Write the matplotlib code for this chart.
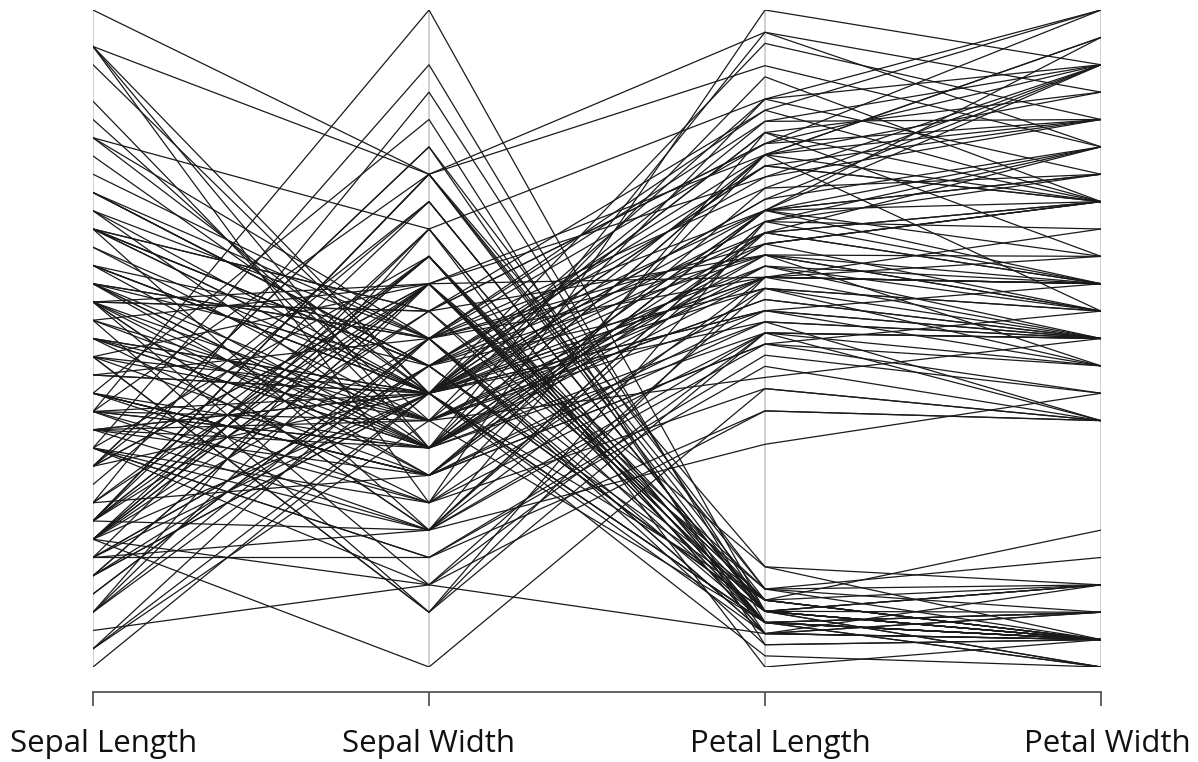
import numpy as np
import matplotlib.pyplot as plt

# iris measurements, one list per column
sepal_length = [5.1, 4.9, 4.7, 4.6, 5.0, 5.4, 4.6, 5.0, 4.4, 4.9, 5.4, 4.8, 4.8, 4.3, 5.8, 5.7, 5.4, 5.1, 5.7, 5.1,
                5.4, 5.1, 4.6, 5.1, 4.8, 5.0, 5.0, 5.2, 5.2, 4.7, 4.8, 5.4, 5.2, 5.5, 4.9, 5.0, 5.5, 4.9, 4.4, 5.1,
                5.0, 4.5, 4.4, 5.0, 5.1, 4.8, 5.1, 4.6, 5.3, 5.0,
                7.0, 6.4, 6.9, 5.5, 6.5, 5.7, 6.3, 4.9, 6.6, 5.2, 5.0, 5.9, 6.0, 6.1, 5.6, 6.7, 5.6, 5.8, 6.2, 5.6,
                5.9, 6.1, 6.3, 6.1, 6.4, 6.6, 6.8, 6.7, 6.0, 5.7, 5.5, 5.5, 5.8, 6.0, 5.4, 6.0, 6.7, 6.3, 5.6, 5.5,
                5.5, 6.1, 5.8, 5.0, 5.6, 5.7, 5.7, 6.2, 5.1, 5.7,
                6.3, 5.8, 7.1, 6.3, 6.5, 7.6, 4.9, 7.3, 6.7, 7.2, 6.5, 6.4, 6.8, 5.7, 5.8, 6.4, 6.5, 7.7, 7.7, 6.0,
                6.9, 5.6, 7.7, 6.3, 6.7, 7.2, 6.2, 6.1, 6.4, 7.2, 7.4, 7.9, 6.4, 6.3, 6.1, 7.7, 6.3, 6.4, 6.0, 6.9,
                6.7, 6.9, 5.8, 6.8, 6.7, 6.7, 6.3, 6.5, 6.2, 5.9]
sepal_width = [3.5, 3.0, 3.2, 3.1, 3.6, 3.9, 3.4, 3.4, 2.9, 3.1, 3.7, 3.4, 3.0, 3.0, 4.0, 4.4, 3.9, 3.5, 3.8, 3.8,
               3.4, 3.7, 3.6, 3.3, 3.4, 3.0, 3.4, 3.5, 3.4, 3.2, 3.1, 3.4, 4.1, 4.2, 3.1, 3.2, 3.5, 3.6, 3.0, 3.4,
               3.5, 2.3, 3.2, 3.5, 3.8, 3.0, 3.8, 3.2, 3.7, 3.3,
               3.2, 3.2, 3.1, 2.3, 2.8, 2.8, 3.3, 2.4, 2.9, 2.7, 2.0, 3.0, 2.2, 2.9, 2.9, 3.1, 3.0, 2.7, 2.2, 2.5,
               3.2, 2.8, 2.5, 2.8, 2.9, 3.0, 2.8, 3.0, 2.9, 2.6, 2.4, 2.4, 2.7, 2.7, 3.0, 3.4, 3.1, 2.3, 3.0, 2.5,
               2.6, 3.0, 2.6, 2.3, 2.7, 3.0, 2.9, 2.9, 2.5, 2.8,
               3.3, 2.7, 3.0, 2.9, 3.0, 3.0, 2.5, 2.9, 2.5, 3.6, 3.2, 2.7, 3.0, 2.5, 2.8, 3.2, 3.0, 3.8, 2.6, 2.2,
               3.2, 2.8, 2.8, 2.7, 3.3, 3.2, 2.8, 3.0, 2.8, 3.0, 2.8, 3.8, 2.8, 2.8, 2.6, 3.0, 3.4, 3.1, 3.0, 3.1,
               3.1, 3.1, 2.7, 3.2, 3.3, 3.0, 2.5, 3.0, 3.4, 3.0]
petal_length = [1.4, 1.4, 1.3, 1.5, 1.4, 1.7, 1.4, 1.5, 1.4, 1.5, 1.5, 1.6, 1.4, 1.1, 1.2, 1.5, 1.3, 1.4, 1.7, 1.5,
                1.7, 1.5, 1.0, 1.7, 1.9, 1.6, 1.6, 1.5, 1.4, 1.6, 1.6, 1.5, 1.5, 1.4, 1.5, 1.2, 1.3, 1.4, 1.3, 1.5,
                1.3, 1.3, 1.3, 1.6, 1.9, 1.4, 1.6, 1.4, 1.5, 1.4,
                4.7, 4.5, 4.9, 4.0, 4.6, 4.5, 4.7, 3.3, 4.6, 3.9, 3.5, 4.2, 4.0, 4.7, 3.6, 4.4, 4.5, 4.1, 4.5, 3.9,
                4.8, 4.0, 4.9, 4.7, 4.3, 4.4, 4.8, 5.0, 4.5, 3.5, 3.8, 3.7, 3.9, 5.1, 4.5, 4.5, 4.7, 4.4, 4.1, 4.0,
                4.4, 4.6, 4.0, 3.3, 4.2, 4.2, 4.2, 4.3, 3.0, 4.1,
                6.0, 5.1, 5.9, 5.6, 5.8, 6.6, 4.5, 6.3, 5.8, 6.1, 5.1, 5.3, 5.5, 5.0, 5.1, 5.3, 5.5, 6.7, 6.9, 5.0,
                5.7, 4.9, 6.7, 4.9, 5.7, 6.0, 4.8, 4.9, 5.6, 5.8, 6.1, 6.4, 5.6, 5.1, 5.6, 6.1, 5.6, 5.5, 4.8, 5.4,
                5.6, 5.1, 5.1, 5.9, 5.7, 5.2, 5.0, 5.2, 5.4, 5.1]
petal_width = [0.2, 0.2, 0.2, 0.2, 0.2, 0.4, 0.3, 0.2, 0.2, 0.1, 0.2, 0.2, 0.1, 0.1, 0.2, 0.4, 0.4, 0.3, 0.3, 0.3,
               0.2, 0.4, 0.2, 0.5, 0.2, 0.2, 0.4, 0.2, 0.2, 0.2, 0.2, 0.4, 0.1, 0.2, 0.2, 0.2, 0.2, 0.1, 0.2, 0.2,
               0.3, 0.3, 0.2, 0.6, 0.4, 0.3, 0.2, 0.2, 0.2, 0.2,
               1.4, 1.5, 1.5, 1.3, 1.5, 1.3, 1.6, 1.0, 1.3, 1.4, 1.0, 1.5, 1.0, 1.4, 1.3, 1.4, 1.5, 1.0, 1.5, 1.1,
               1.8, 1.3, 1.5, 1.2, 1.3, 1.4, 1.4, 1.7, 1.5, 1.0, 1.1, 1.0, 1.2, 1.6, 1.5, 1.6, 1.5, 1.3, 1.3, 1.3,
               1.2, 1.4, 1.2, 1.0, 1.3, 1.2, 1.3, 1.3, 1.1, 1.3,
               2.5, 1.9, 2.1, 1.8, 2.2, 2.1, 1.7, 1.8, 1.8, 2.5, 2.0, 1.9, 2.1, 2.0, 2.4, 2.3, 1.8, 2.2, 2.3, 1.5,
               2.3, 2.0, 2.0, 1.8, 2.1, 1.8, 1.8, 1.8, 2.1, 1.6, 1.9, 2.0, 2.2, 1.5, 1.4, 2.3, 2.4, 1.8, 1.8, 2.1,
               2.4, 2.3, 1.9, 2.3, 2.5, 2.3, 1.9, 2.0, 2.3, 1.8]

labels = ['Sepal Length', 'Sepal Width', 'Petal Length', 'Petal Width']

cols = [sepal_length, sepal_width, petal_length, petal_width]

# scale every column to [0, 1]
norm = []
for c in cols:
    c = np.array(c)
    norm.append((c - c.min()) / (c.max() - c.min()))
norm = np.array(norm)

W, H = 1198, 762
fig = plt.figure(figsize=(W/100, H/100), dpi=100)
ax = fig.add_axes([93/W, 1 - 667/H, (1101 - 93)/W, (667 - 10)/H])

xs = np.arange(len(labels))

for i in xs:
    ax.axvline(i, color='#c8c8c8', lw=1.2, zorder=1)

for k in range(norm.shape[1]):
    ax.plot(xs, norm[:, k], color='#1a1a1a', lw=0.9, zorder=2)

ax.set_xlim(0, len(labels) - 1)
ax.set_ylim(0, 1)
ax.set_yticks([])
for s in ['top', 'right', 'left']:
    ax.spines[s].set_visible(False)

# axis line sits 25 px under the plot, ticks hang down
ax.spines['bottom'].set_position(('outward', 18))
ax.spines['bottom'].set_color('#555555')
ax.spines['bottom'].set_linewidth(1.3)
ax.set_xticks(xs)
ax.set_xticklabels([])
ax.tick_params(axis='x', length=10, width=1.3, color='#555555')

# labels are a little off-centre in the original
label_shift = [11, 0, 15, 6]
for i, lab in enumerate(labels):
    xpix = 93 + i * (1101 - 93) / 3 + label_shift[i]
    fig.text(xpix / W, 1 - 752 / H, lab, ha='center', va='baseline',
             family='Open Sans', fontsize=22.5, color='#111111')

# display the plot
plt.savefig('out.png', dpi=100)
